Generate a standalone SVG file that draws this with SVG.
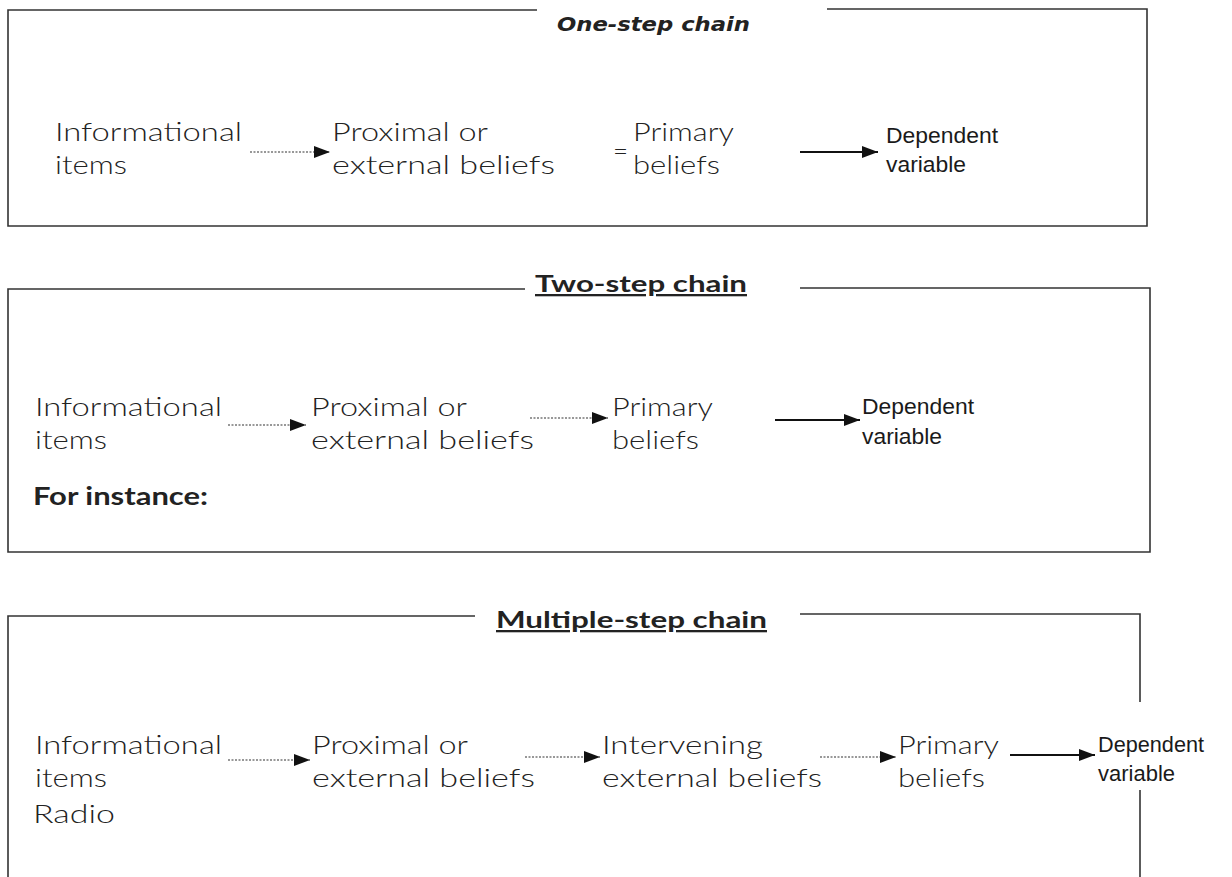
<svg xmlns="http://www.w3.org/2000/svg" width="1232" height="877" viewBox="0 0 1232 877">
<defs>
<style>
.frame{fill:none;stroke:#333;stroke-width:1.6}
.t{font-family:Lato,"DejaVu Sans",sans-serif;font-weight:300;font-size:26px;fill:#222}
.b{font-family:Lato,"DejaVu Sans",sans-serif;font-weight:700;font-size:24px;fill:#222}
.d{font-family:"Liberation Sans",Arial,sans-serif;font-size:22px;fill:#1a1a1a}
.title1{font-family:"DejaVu Sans",sans-serif;font-weight:bold;font-style:italic;font-size:20px;fill:#222}
.title{font-family:Lato,"DejaVu Sans",sans-serif;font-weight:bold;font-size:23px;fill:#222}
.dot{stroke:#777;stroke-width:1.3;stroke-dasharray:2 1.5;fill:none}
.sol{stroke:#111;stroke-width:2;fill:none}
</style>
<marker id="ah" viewBox="0 0 16 12" refX="16" refY="6" markerWidth="16" markerHeight="12" markerUnits="userSpaceOnUse" orient="auto">
<path d="M0,0 L16,6 L0,12 z" fill="#111"/>
</marker>
</defs>
<rect width="1232" height="877" fill="#fff"/>

<g id="box1">
<path class="frame" d="M537,10 H8 V226 H1147 V9 H827"/>
<text class="title1" x="557" y="31" textLength="193" lengthAdjust="spacingAndGlyphs">One-step chain</text>
</g>
<g id="box2">
<path class="frame" d="M525,289 H8 V552 H1150 V288 H800"/>
<text class="title" x="535" y="292" textLength="212" lengthAdjust="spacingAndGlyphs" text-decoration="underline">Two-step chain</text>
</g>
<g id="box3">
<path class="frame" d="M475,616 H8 V877"/>
<path class="frame" d="M800,614 H1140 V702"/>
<path class="frame" d="M1140,790 V877"/>
<text class="title" x="496" y="628" textLength="271" lengthAdjust="spacingAndGlyphs" text-decoration="underline">Multiple-step chain</text>
</g>

<g id="n1-info"><text class="t" x="55" y="141" textLength="187" lengthAdjust="spacingAndGlyphs">Informational</text><text class="t" x="55" y="174" textLength="72" lengthAdjust="spacingAndGlyphs">items</text></g>
<g id="n1-prox"><text class="t" x="332" y="141" textLength="156" lengthAdjust="spacingAndGlyphs">Proximal or</text><text class="t" x="332" y="174" textLength="223" lengthAdjust="spacingAndGlyphs">external beliefs</text></g>
<g id="n1-eq"><text class="t" x="613" y="160">=</text></g>
<g id="n1-prim"><text class="t" x="633" y="141" textLength="101" lengthAdjust="spacingAndGlyphs">Primary</text><text class="t" x="633" y="174" textLength="87" lengthAdjust="spacingAndGlyphs">beliefs</text></g>
<g id="n1-dep"><text class="d" x="886" y="143" textLength="112" lengthAdjust="spacingAndGlyphs">Dependent</text><text class="d" x="886" y="172" textLength="80" lengthAdjust="spacingAndGlyphs">variable</text></g>

<g id="n2-info"><text class="t" x="35" y="416" textLength="187" lengthAdjust="spacingAndGlyphs">Informational</text><text class="t" x="35" y="449" textLength="72" lengthAdjust="spacingAndGlyphs">items</text></g>
<g id="n2-prox"><text class="t" x="311" y="416" textLength="156" lengthAdjust="spacingAndGlyphs">Proximal or</text><text class="t" x="311" y="449" textLength="223" lengthAdjust="spacingAndGlyphs">external beliefs</text></g>
<g id="n2-prim"><text class="t" x="612" y="416" textLength="101" lengthAdjust="spacingAndGlyphs">Primary</text><text class="t" x="612" y="449" textLength="87" lengthAdjust="spacingAndGlyphs">beliefs</text></g>
<g id="n2-dep"><text class="d" x="862" y="414" textLength="112" lengthAdjust="spacingAndGlyphs">Dependent</text><text class="d" x="862" y="444" textLength="80" lengthAdjust="spacingAndGlyphs">variable</text></g>
<g id="n2-inst"><text class="b" x="33" y="505" textLength="175" lengthAdjust="spacingAndGlyphs">For instance:</text></g>

<g id="n3-info"><text class="t" x="35" y="754" textLength="187" lengthAdjust="spacingAndGlyphs">Informational</text><text class="t" x="35" y="787" textLength="72" lengthAdjust="spacingAndGlyphs">items</text><text class="t" x="33" y="823" textLength="82" lengthAdjust="spacingAndGlyphs">Radio</text></g>
<g id="n3-prox"><text class="t" x="312" y="754" textLength="156" lengthAdjust="spacingAndGlyphs">Proximal or</text><text class="t" x="312" y="787" textLength="223" lengthAdjust="spacingAndGlyphs">external beliefs</text></g>
<g id="n3-int"><text class="t" x="602" y="754" textLength="161" lengthAdjust="spacingAndGlyphs">Intervening</text><text class="t" x="602" y="787" textLength="220" lengthAdjust="spacingAndGlyphs">external beliefs</text></g>
<g id="n3-prim"><text class="t" x="898" y="754" textLength="101" lengthAdjust="spacingAndGlyphs">Primary</text><text class="t" x="898" y="787" textLength="87" lengthAdjust="spacingAndGlyphs">beliefs</text></g>
<g id="n3-dep"><text class="d" x="1098" y="752" textLength="106" lengthAdjust="spacingAndGlyphs">Dependent</text><text class="d" x="1098" y="781" textLength="77" lengthAdjust="spacingAndGlyphs">variable</text></g>

<g id="connectors">
<line class="dot" x1="250" y1="152" x2="330" y2="152" marker-end="url(#ah)"/>
<line class="sol" x1="800" y1="152" x2="878" y2="152" marker-end="url(#ah)"/>
<line class="dot" x1="228" y1="425" x2="306" y2="425" marker-end="url(#ah)"/>
<line class="dot" x1="530" y1="418" x2="608" y2="418" marker-end="url(#ah)"/>
<line class="sol" x1="775" y1="420" x2="860" y2="420" marker-end="url(#ah)"/>
<line class="dot" x1="228" y1="760" x2="310" y2="760" marker-end="url(#ah)"/>
<line class="dot" x1="525" y1="757" x2="600" y2="757" marker-end="url(#ah)"/>
<line class="dot" x1="820" y1="757" x2="896" y2="757" marker-end="url(#ah)"/>
<line class="sol" x1="1010" y1="755" x2="1095" y2="755" marker-end="url(#ah)"/>
</g>
</svg>
